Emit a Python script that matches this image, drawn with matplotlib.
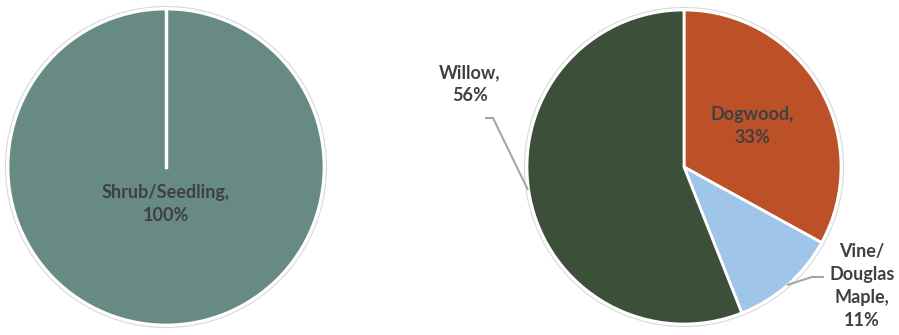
import matplotlib
matplotlib.use('Agg')
import matplotlib.pyplot as plt
from matplotlib.patches import Circle

# left chart
left_labels = ['Shrub/Seedling']
left_values = [100]
left_colors = ['#678a84']

# right chart
right_labels = ['Dogwood', 'Vine/\nDouglas\nMaple', 'Willow']
right_values = [33, 11, 56]
right_colors = ['#bc5128', '#9fc5e8', '#3c4f39']

plt.rcParams['font.family'] = ['Lato', 'DejaVu Sans']

fig = plt.figure(figsize=(8.99, 3.35), dpi=100)
ax = fig.add_axes([0, 0, 1, 1])
ax.set_xlim(0, 899)
ax.set_ylim(0, 335)
ax.set_aspect('equal')
ax.axis('off')

txt = dict(color='#404040', fontsize=13, fontweight='bold', ha='center', va='center',
           linespacing=1.45)

# left pie
lc = (166, 168)
lr = 158
ax.add_patch(Circle(lc, lr + 2.5, fill=False, edgecolor='#d9d9d9', lw=0.8))
ax.pie(left_values, colors=left_colors, center=lc, radius=lr, startangle=90,
       counterclock=False, wedgeprops=dict(edgecolor='white', linewidth=2), frame=True)
ax.plot([lc[0], lc[0]], [lc[1], lc[1] + lr], color='white', lw=2.5)
ax.text(lc[0], 131, '%s,\n%d%%' % (left_labels[0], left_values[0]), **txt)

# right pie
rc = (684, 168)
rr = 157
ax.add_patch(Circle(rc, rr + 2.5, fill=False, edgecolor='#d9d9d9', lw=0.8))
ax.pie(right_values, colors=right_colors, center=rc, radius=rr, startangle=90,
       counterclock=False, wedgeprops=dict(edgecolor='white', linewidth=2), frame=True)

ax.text(752, 209, '%s,\n%d%%' % (right_labels[0], right_values[0]), **txt)
ax.text(470, 251, '%s,\n%d%%' % (right_labels[2], right_values[2]), **txt)
ax.text(862, 49, '%s,\n%d%%' % (right_labels[1], right_values[1]), **txt)

# leader lines
ax.plot([485, 493, 528], [217, 217, 145], color='#a6a6a6', lw=1.5, solid_capstyle='butt')
ax.plot([787, 812, 824], [50, 58, 58], color='#a6a6a6', lw=1.5, solid_capstyle='butt')

ax.set_xlim(0, 899)
ax.set_ylim(0, 335)
ax.axis('off')

fig.savefig('out.png', dpi=100)
